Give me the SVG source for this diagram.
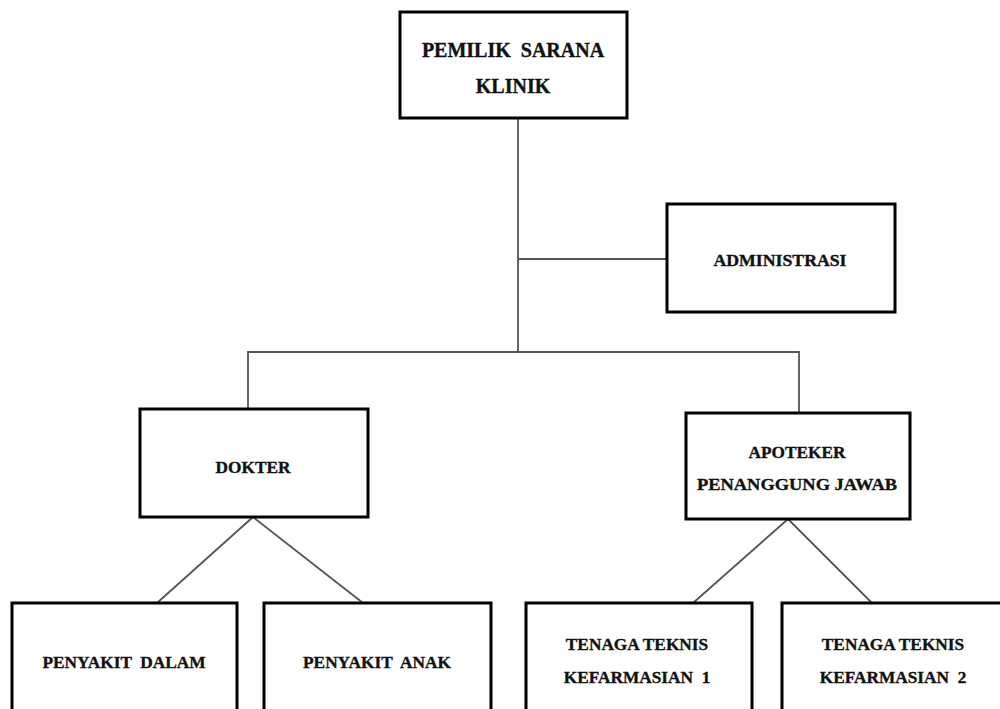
<svg xmlns="http://www.w3.org/2000/svg" width="1000" height="709" viewBox="0 0 1000 709">
<style>
.box{fill:#fff;stroke:#000;stroke-width:3}
text{font-family:'Liberation Serif','Times New Roman',serif;font-weight:bold;fill:#111;stroke:#111;stroke-width:0.35;text-anchor:middle}
.s17{font-size:17.3px}
.s20{font-size:20px}
.conn line, .conn polyline{stroke:#555;stroke-width:1.8;fill:none}
</style>
<rect width="1000" height="709" fill="#fff"/>
<g id="connectors" class="conn">
<line x1="518" y1="119" x2="518" y2="352"/>
<line x1="518" y1="259" x2="667" y2="259"/>
<polyline points="248,409 248,352 799,352 799,413"/>
<polyline points="157,603 253,517 363,603"/>
<polyline points="693,603 788,519 872,603"/>
</g>
<g id="pemilik">
<rect class="box" x="400" y="12" width="227" height="106"/>
<text class="s20" x="513" y="57" xml:space="preserve">PEMILIK  SARANA</text>
<text class="s20" x="513" y="93">KLINIK</text>
</g>
<g id="administrasi">
<rect class="box" x="667" y="204" width="228" height="108"/>
<text class="s17" x="780" y="266" textLength="133" lengthAdjust="spacingAndGlyphs">ADMINISTRASI</text>
</g>
<g id="dokter">
<rect class="box" x="140" y="409" width="228" height="108"/>
<text class="s17" x="253" y="473">DOKTER</text>
</g>
<g id="apoteker">
<rect class="box" x="686" y="413" width="224" height="106"/>
<text class="s17" x="797" y="458">APOTEKER</text>
<text class="s17" x="797" y="490" textLength="200" lengthAdjust="spacingAndGlyphs">PENANGGUNG JAWAB</text>
</g>
<g id="penyakit-dalam">
<rect class="box" x="12" y="603" width="225" height="110"/>
<text class="s17" x="124" y="668" xml:space="preserve">PENYAKIT  DALAM</text>
</g>
<g id="penyakit-anak">
<rect class="box" x="264" y="603" width="227" height="110"/>
<text class="s17" x="377" y="668" xml:space="preserve">PENYAKIT  ANAK</text>
</g>
<g id="ttk1">
<rect class="box" x="526" y="603" width="226" height="110"/>
<text class="s17" x="637" y="650">TENAGA TEKNIS</text>
<text class="s17" x="637" y="683" xml:space="preserve">KEFARMASIAN  1</text>
</g>
<g id="ttk2">
<rect class="box" x="782" y="603" width="228" height="110"/>
<text class="s17" x="893" y="650">TENAGA TEKNIS</text>
<text class="s17" x="893" y="683" xml:space="preserve">KEFARMASIAN  2</text>
</g>
</svg>
